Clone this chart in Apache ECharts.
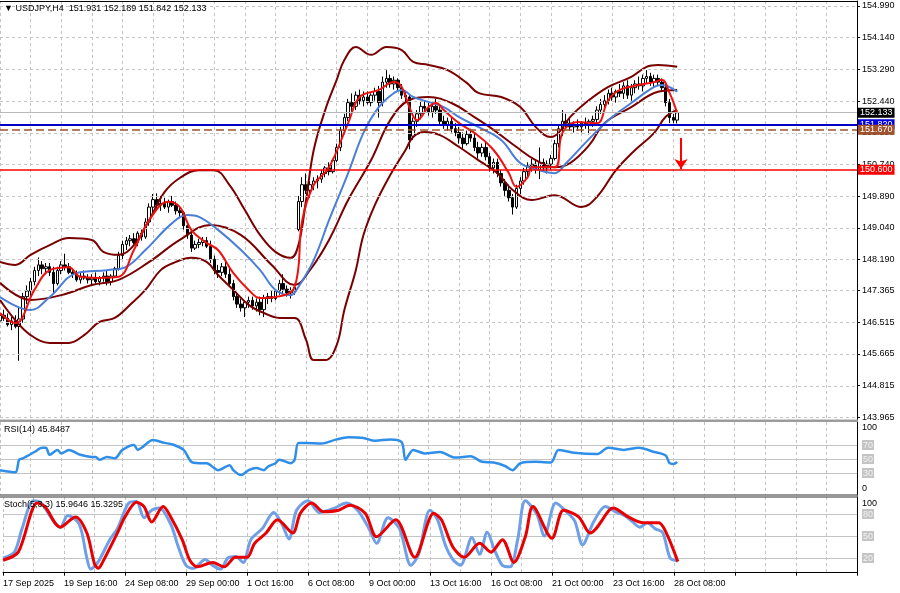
<!DOCTYPE html>
<html><head><meta charset="utf-8">
<script src="https://cdn.jsdelivr.net/npm/echarts@6/dist/echarts.min.js"></script>
<style>html,body{margin:0;padding:0;background:#fff}#c{width:900px;height:593px}</style>
</head><body><div id="c"></div>
<script>
const symbolTitle = 'USDJPY,H4';
const rsiTitle = 'RSI(14) 45.8487';
const stochTitle = 'Stoch(5,3,3) 15.9646 15.3295';

const open = [146.55,146.70,146.62,146.45,146.55,146.40,146.60,147.20,147.35,147.60,147.90,148.05,147.95,148.00,147.85,147.55,147.90,148.05,148.00,147.85,147.80,147.65,147.75,147.70,147.65,147.70,147.60,147.70,147.75,147.60,
147.75,147.95,148.30,148.60,148.70,148.75,148.65,148.90,148.80,149.20,149.60,149.80,149.65,149.70,149.60,149.75,149.65,149.50,149.45,149.10,148.85,148.50,148.60,148.65,148.70,148.55,148.20,147.90,147.85,148.00,
147.80,147.55,147.20,147.00,146.90,147.05,147.10,146.95,147.05,146.85,147.15,147.20,147.15,147.35,147.55,147.40,147.30,147.35,149.00,149.75,150.20,150.05,150.20,150.30,150.35,150.50,150.65,150.55,150.85,151.20,
151.65,152.00,152.40,152.30,152.60,152.45,152.55,152.40,152.60,152.70,152.40,152.95,153.05,152.90,153.00,152.80,152.60,152.55,151.50,151.90,152.10,152.30,152.25,152.15,152.30,152.20,151.90,151.80,151.90,151.70,
151.60,151.45,151.30,151.55,151.45,151.20,151.05,151.20,150.95,150.65,150.80,150.50,150.25,150.05,149.85,149.60,150.10,150.30,150.55,150.70,150.75,150.60,150.80,150.65,150.75,150.90,151.30,151.70,151.90,151.85,
151.75,151.80,151.75,151.85,151.80,151.90,151.95,152.20,152.35,152.45,152.65,152.55,152.70,152.65,152.85,152.60,152.80,152.90,152.85,153.05,153.10,152.95,153.05,152.95,152.80,152.40,152.00,151.931];
const high = [146.80,146.85,146.75,146.65,146.70,146.90,147.30,147.50,147.70,148.00,148.25,148.15,148.10,148.10,148.00,148.00,148.15,148.35,148.10,147.95,147.90,147.85,147.90,147.80,147.80,147.85,147.75,147.85,147.90,147.80,
148.00,148.40,148.70,148.80,148.85,148.90,148.95,149.00,149.30,149.70,149.95,149.97,149.90,149.85,149.80,149.90,149.75,149.60,149.50,149.20,148.95,148.70,148.75,148.80,148.80,148.70,148.30,148.05,148.10,148.15,
147.95,147.65,147.30,147.15,147.10,147.20,147.20,147.15,147.20,147.25,147.30,147.35,147.40,147.65,147.80,147.50,147.45,147.55,149.90,150.40,150.50,150.30,150.40,150.45,150.60,150.70,150.80,150.90,151.30,151.75,
152.10,152.50,152.65,152.70,152.75,152.70,152.70,152.65,152.80,152.85,153.10,153.27,153.15,153.10,153.05,152.90,152.70,152.60,152.00,152.20,152.45,152.45,152.40,152.35,152.50,152.35,152.05,152.00,152.00,151.85,
151.75,151.60,151.65,151.70,151.60,151.35,151.30,151.35,151.05,150.90,150.90,150.60,150.35,150.20,149.95,150.20,150.40,150.65,150.80,150.90,150.85,151.20,150.90,150.85,151.00,151.40,151.80,152.20,152.10,152.00,
151.90,151.95,151.90,152.00,151.95,152.05,152.30,152.50,152.60,152.75,152.80,152.75,152.90,152.95,153.00,152.90,153.00,153.10,153.15,153.27,153.20,153.15,153.15,153.05,152.90,152.50,152.10,152.189];
const low = [146.45,146.55,146.40,146.30,146.35,145.48,146.50,147.00,147.20,147.50,147.75,147.80,147.80,147.75,147.30,147.50,147.80,147.90,147.80,147.70,147.60,147.55,147.65,147.55,147.50,147.55,147.50,147.60,147.50,147.50,
147.70,147.90,148.20,148.45,148.55,148.60,148.55,148.70,148.75,149.10,149.45,149.55,149.50,149.55,149.45,149.60,149.40,149.30,149.00,148.75,148.40,148.45,148.50,148.55,148.50,148.10,147.80,147.70,147.75,147.70,
147.50,147.10,146.90,146.80,146.65,146.90,146.85,146.80,146.70,146.65,147.00,147.05,147.10,147.25,147.30,147.20,147.15,147.25,148.95,149.60,149.95,149.85,150.05,150.10,150.25,150.40,150.45,150.50,150.80,151.10,
151.55,151.90,152.15,152.20,152.35,152.30,152.35,152.30,152.45,152.00,152.30,152.80,152.80,152.75,152.70,152.50,152.40,151.15,151.40,151.75,151.95,152.15,152.05,152.00,152.10,151.80,151.70,151.65,151.60,151.50,
151.30,151.15,151.25,151.35,151.10,150.90,150.95,150.85,150.55,150.50,150.40,150.15,149.90,149.75,149.40,149.55,149.95,150.20,150.40,150.55,150.50,150.35,150.55,150.50,150.60,150.85,151.20,151.50,151.70,151.65,
151.60,151.65,151.60,151.70,151.55,151.75,151.85,152.10,152.20,152.35,152.45,152.40,152.55,152.50,152.50,152.45,152.65,152.75,152.70,152.90,152.85,152.80,152.85,152.70,152.30,151.85,151.85,151.842];
const close = [146.70,146.62,146.45,146.55,146.40,146.60,147.20,147.35,147.60,147.90,148.05,147.95,148.00,147.85,147.55,147.90,148.05,148.00,147.85,147.80,147.65,147.75,147.70,147.65,147.70,147.60,147.70,147.75,147.60,147.75,
147.95,148.30,148.60,148.70,148.75,148.65,148.90,148.80,149.20,149.60,149.80,149.65,149.70,149.60,149.75,149.65,149.50,149.45,149.10,148.85,148.50,148.60,148.65,148.70,148.55,148.20,147.90,147.85,148.00,147.80,
147.55,147.20,147.00,146.90,147.05,147.10,146.95,147.05,146.85,147.15,147.20,147.15,147.35,147.55,147.40,147.30,147.35,147.45,149.75,150.20,150.05,150.20,150.30,150.35,150.50,150.65,150.55,150.85,151.20,151.65,
152.00,152.40,152.30,152.60,152.45,152.55,152.40,152.60,152.70,152.40,152.95,153.05,152.90,153.00,152.80,152.60,152.55,151.40,151.90,152.10,152.30,152.25,152.15,152.30,152.20,151.90,151.80,151.90,151.70,151.60,
151.45,151.30,151.55,151.45,151.20,151.05,151.20,150.95,150.65,150.80,150.50,150.25,150.05,149.85,149.60,150.10,150.30,150.55,150.70,150.75,150.60,150.80,150.65,150.75,150.90,151.30,151.70,151.90,151.85,151.75,
151.80,151.75,151.85,151.80,151.90,151.95,152.20,152.35,152.45,152.65,152.55,152.70,152.65,152.85,152.60,152.80,152.90,152.85,153.05,153.10,152.95,153.05,152.95,152.80,152.40,152.00,151.93,152.133];

const priceTicks = [154.990,154.140,153.290,152.440,151.590,150.740,149.890,149.040,148.190,147.365,146.515,145.665,144.815,143.965];
const timeTicks = [[0,'17 Sep 2025'],[16,'19 Sep 16:00'],[32,'24 Sep 08:00'],[48,'29 Sep 00:00'],[64,'1 Oct 16:00'],[80,'6 Oct 08:00'],[96,'9 Oct 00:00'],[112,'13 Oct 16:00'],[128,'16 Oct 08:00'],[144,'21 Oct 00:00'],[160,'23 Oct 16:00'],[176,'28 Oct 08:00']];

const bbUpper = [[0,148.13],[4,148.05],[8,148.32],[13,148.58],[18,148.77],[24,148.72],[27,148.40],[31,148.32],[35,148.58],[39,149.25],[43,150.00],[47,150.38],[52,150.59],[56,150.59],[60,150.19],[64,149.52],[68,148.85],[72,148.40],[76,148.24],[78,148.58],[80,149.79],[82,151.13],[85,152.20],[88,153.01],[90,153.54],[93,153.89],[97,153.68],[101,153.89],[105,153.81],[108,153.49],[112,153.41],[117,153.27],[122,152.93],[125,152.66],[131,152.55],[136,152.28],[140,151.75],[144,151.48],[146,151.59],[149,152.01],[153,152.39],[159,152.82],[165,153.09],[169,153.36],[172,153.41],[177,153.36]];
const bbMiddle = [[0,147.57],[8,147.11],[16,147.24],[24,147.51],[31,147.65],[39,148.13],[47,148.72],[55,149.12],[63,148.85],[71,148.05],[77,147.51],[81,147.91],[86,148.72],[91,149.79],[97,150.86],[102,151.93],[107,152.47],[112,152.55],[118,152.39],[124,152.01],[129,151.67],[135,151.21],[140,150.86],[145,150.67],[149,150.78],[154,151.26],[158,151.85],[165,152.28],[172,152.69],[177,152.74]];
const bbLower = [[0,147.11],[4,146.57],[8,146.17],[13,145.96],[18,145.96],[22,146.17],[26,146.52],[30,146.63],[34,146.98],[38,147.38],[42,147.91],[46,148.13],[50,148.24],[54,148.13],[57,147.78],[61,147.38],[65,146.98],[69,146.76],[73,146.63],[77,146.63],[80,146.04],[82,145.50],[85,145.50],[88,145.90],[90,146.84],[93,147.91],[95,148.85],[98,149.66],[102,150.46],[106,151.13],[108,151.48],[111,151.61],[115,151.53],[120,151.21],[125,150.86],[130,150.51],[134,150.06],[139,149.79],[145,149.92],[152,149.60],[156,149.87],[161,150.59],[166,151.13],[171,151.59],[174,152.02],[177,152.20]];
const maBlue = [[0,147.19],[8,146.84],[13,147.19],[20,147.83],[28,147.91],[33,148.00],[38,148.45],[45,149.17],[49,149.39],[52,149.34],[57,148.99],[63,148.45],[68,147.91],[72,147.38],[76,147.24],[78,147.46],[82,148.18],[86,149.25],[91,150.51],[95,151.59],[99,152.28],[103,152.66],[105,152.74],[108,152.55],[112,152.42],[116,152.28],[120,152.01],[125,151.75],[131,151.40],[136,150.78],[141,150.59],[145,150.51],[148,150.78],[153,151.32],[159,151.93],[165,152.39],[171,152.82],[173,152.87],[177,152.69]];
const maRed = [[0,146.76],[4,146.49],[9,147.38],[13,147.91],[18,147.99],[21,147.73],[26,147.70],[31,147.73],[35,148.45],[39,149.25],[44,149.74],[47,149.60],[50,148.99],[54,148.64],[57,148.45],[61,147.83],[65,147.38],[68,147.16],[72,147.19],[77,147.46],[79,149.25],[82,150.19],[86,150.67],[91,151.85],[94,152.55],[99,152.74],[103,152.95],[105,152.82],[107,152.28],[109,151.93],[112,152.28],[114,152.39],[116,152.20],[120,151.85],[124,151.59],[129,151.13],[133,150.51],[135,150.14],[138,150.41],[139,150.67],[145,150.67],[147,151.59],[151,151.88],[156,151.85],[159,152.47],[162,152.74],[167,152.87],[171,152.95],[173,153.01],[175,152.66],[177,152.12]];

const rsi = [[0,34],[4,31],[5,49],[6,51],[9,60],[11,66],[12,66],[13,56],[15,63],[16,58],[18,63],[21,56],[24,53],[25,53],[26,49],[28,53],[30,51],[32,63],[35,70],[36,63],[37,66],[40,77],[43,73],[45,71],[48,63],[50,46],[52,44],[54,44],[56,37],[57,34],[60,41],[61,34],[63,27],[65,34],[67,37],[69,34],[70,39],[72,44],[73,49],[76,44],[77,49],[78,73],[80,73],[84,72],[88,78],[91,81],[95,80],[98,76],[102,78],[105,74],[106,49],[108,63],[111,58],[115,60],[119,52],[123,54],[126,46],[129,45],[132,40],[134,34],[136,44],[140,46],[144,45],[146,63],[150,59],[156,57],[159,66],[163,63],[167,66],[171,60],[174,55],[175,44],[176,43],[177,45.85]];
const stochK = [[0,20],[3,28],[5,60],[8,98],[10,95],[13,72],[15,62],[17,78],[20,66],[22,20],[23,5],[25,15],[28,45],[30,60],[33,95],[35,97],[37,75],[39,85],[41,88],[44,66],[46,35],[48,10],[50,6],[53,18],[55,10],[57,5],[59,20],[61,22],[63,14],[65,45],[68,60],[71,82],[73,68],[75,46],[77,85],[80,98],[83,82],[87,88],[90,95],[93,85],[96,60],[98,40],[101,75],[104,60],[107,10],[109,25],[112,85],[114,72],[116,38],[118,18],[120,10],[123,48],[125,25],[127,55],[129,30],[131,10],[133,8],[135,45],[137,98],[140,80],[142,50],[145,95],[148,82],[150,70],[152,38],[155,70],[158,90],[161,82],[163,78],[165,70],[167,62],[169,68],[171,60],[173,55],[175,20],[177,15.96]];
const stochD = [[0,17],[4,28],[9,95],[11,90],[15,62],[19,76],[22,54],[24,12],[25,6],[26,13],[30,54],[32,76],[35,96],[37,90],[39,69],[42,90],[44,76],[47,45],[49,17],[51,8],[55,14],[58,8],[61,21],[64,21],[66,40],[69,54],[72,72],[76,54],[78,81],[81,95],[84,83],[88,85],[91,92],[95,81],[98,49],[103,72],[108,21],[113,81],[115,72],[118,35],[121,21],[125,40],[128,28],[131,45],[134,14],[137,49],[139,90],[144,47],[147,85],[151,76],[154,54],[159,85],[160,88],[164,76],[168,68],[172,68],[174,54],[177,15.33]];

const bidLevel = 152.133;
const blueLevel = 151.820;
const brownLevel = 151.670;
const redLevel = 150.600;
const arrowFrom = [178, 151.45];
const arrowTo = [178, 150.62];
const rsiLevels = [70, 50, 30];
const stochLevels = [80, 50, 20];

const SLOTS = 225;
const slots = Array.from({length: SLOTS}, (_, i) => String(i));
const tickMap = {}; timeTicks.forEach(t => tickMap[t[0]] = t[1]);
const FONT = "'Liberation Sans', Arial, sans-serif";
const fmt3 = v => v.toFixed(3);

const chart = echarts.init(document.getElementById('c'), null, {renderer: 'canvas'});

function xAx(gi, mode) {
  const bottom = mode === 'bottom';
  return {
    type: 'category', gridIndex: gi, data: slots, boundaryGap: false,
    position: mode === 'top' ? 'top' : 'bottom',
    axisLine: {show: mode !== 'none', lineStyle: {color: '#000', width: 1}},
    axisTick: {show: bottom, interval: 15, length: 3, lineStyle: {color: '#000'}},
    axisLabel: bottom ? {show: true, interval: 15, align: 'left', margin: 6, color: '#000', fontSize: 9, fontFamily: FONT,
      formatter: (v, idx) => tickMap[idx] || ''} : {show: false},
    splitLine: {show: true, interval: 7, lineStyle: {color: '#c4c4c4', type: [3, 3], width: 1}}
  };
}

const candleData = open.map((o, i) => [o, close[i], low[i], high[i]]);

function lvlLine(val, color, width, type, labelBg, labelColor) {
  return {
    yAxis: val, lineStyle: {color, width, type},
    label: {show: !!labelBg, position: 'end', distance: 1, formatter: fmt3(val), backgroundColor: labelBg,
      color: labelColor, fontSize: 9, fontFamily: FONT, padding: [1, 2, 0, 2]}
  };
}

const option = {
  animation: false,
  backgroundColor: '#fff',
  grid: [
    {left: 0, right: 43, top: 1, height: 419, show: false},
    {left: 0, right: 43, top: 422, height: 73, show: false},
    {left: 0, right: 43, top: 497, height: 76, show: false}
  ],
  xAxis: [xAx(0, 'top'), xAx(1, 'none'), xAx(2, 'bottom')],
  yAxis: [
    {type: 'value', gridIndex: 0, position: 'right', min: 143.893, max: 155.124,
      axisLine: {show: true, lineStyle: {color: '#000'}},
      axisTick: {show: true, customValues: priceTicks, length: 3, lineStyle: {color: '#000'}},
      axisLabel: {customValues: priceTicks, formatter: fmt3, color: '#000', fontSize: 9, fontFamily: FONT, margin: 5},
      splitLine: {show: false}},
    {type: 'value', gridIndex: 1, position: 'right', min: -1.43, max: 102.86,
      axisLine: {show: true, lineStyle: {color: '#000'}},
      axisTick: {show: false},
      axisLabel: {customValues: [0, 30, 50, 70, 100], color: '#000', fontSize: 9, fontFamily: FONT, margin: 5,
        formatter: v => v === 100 ? '{t|100}' : v === 0 ? '{b|0}' : '{g|' + v + '}',
        rich: {t: {padding: [8, 0, 0, 0], fontSize: 9}, b: {padding: [0, 0, 10, 0], fontSize: 9},
          g: {backgroundColor: '#c4c4c4', color: '#f2f2f2', padding: [1, 1, 0, 1], fontSize: 9}}},
      splitLine: {show: false}},
    {type: 'value', gridIndex: 2, position: 'right', min: -0.41, max: 103.1,
      axisLine: {show: true, lineStyle: {color: '#000'}},
      axisTick: {show: false},
      axisLabel: {customValues: [0, 20, 50, 80, 100], color: '#000', fontSize: 9, fontFamily: FONT, margin: 5,
        formatter: v => v === 100 ? '{t|100}' : v === 0 ? '{b|0}' : '{g|' + v + '}',
        rich: {t: {padding: [9, 0, 0, 0], fontSize: 9}, b: {padding: [0, 0, 13, 0], fontSize: 9},
          g: {backgroundColor: '#c4c4c4', color: '#f2f2f2', padding: [1, 1, 0, 1], fontSize: 9}}},
      splitLine: {show: false}}
  ],
  graphic: [
    {type: 'rect', left: 0, top: 419.5, z: 90, shape: {width: 858, height: 2.5}, style: {fill: '#9c9c9c'}},
    {type: 'rect', left: 0, top: 494.5, z: 90, shape: {width: 858, height: 1}, style: {fill: '#333'}},
    {type: 'rect', left: 0, top: 496.5, z: 90, shape: {width: 858, height: 1}, style: {fill: '#333'}},
    {type: 'text', left: 4, top: 4, z: 100, style: {text: '▼ ' + symbolTitle + '  ' + [open, high, low, close].map(a => fmt3(a[a.length - 1])).join(' '),
      fill: '#000', font: "9px 'Liberation Sans', Arial, sans-serif"}},
    {type: 'text', left: 4, top: 425, z: 100, style: {text: rsiTitle, fill: '#000', font: "9px 'Liberation Sans', Arial, sans-serif"}},
    {type: 'text', left: 4, top: 500, z: 100, style: {text: stochTitle, fill: '#000', font: "9px 'Liberation Sans', Arial, sans-serif"}}
  ],
  series: [
    {type: 'line', xAxisIndex: 0, yAxisIndex: 0, data: close.map((c, i) => [i, c]), showSymbol: false, silent: true,
      lineStyle: {opacity: 0}, z: 1,
      markLine: {silent: true, symbol: 'none', animation: false,
        data: priceTicks.map(v => ({yAxis: v, lineStyle: {color: '#c4c4c4', type: [3, 3], width: 1}, label: {show: false}}))}},
    {type: 'candlestick', xAxisIndex: 0, yAxisIndex: 0, data: candleData, barWidth: 3, z: 3,
      itemStyle: {color: '#ffffff', color0: '#000000', borderColor: '#000000', borderColor0: '#000000', borderWidth: 1}},
    {type: 'line', xAxisIndex: 0, yAxisIndex: 0, data: bbUpper, smooth: 0.4, showSymbol: false, z: 4, lineStyle: {color: '#7a0000', width: 2}},
    {type: 'line', xAxisIndex: 0, yAxisIndex: 0, data: bbMiddle, smooth: 0.4, showSymbol: false, z: 4, lineStyle: {color: '#7a0000', width: 2}},
    {type: 'line', xAxisIndex: 0, yAxisIndex: 0, data: bbLower, smooth: 0.4, showSymbol: false, z: 4, lineStyle: {color: '#7a0000', width: 2}},
    {type: 'line', xAxisIndex: 0, yAxisIndex: 0, data: maBlue, smooth: 0.4, showSymbol: false, z: 5, lineStyle: {color: '#4a7fd8', width: 2}},
    {type: 'line', xAxisIndex: 0, yAxisIndex: 0, data: maRed, smooth: 0.4, showSymbol: false, z: 6, lineStyle: {color: '#ee1111', width: 2},
      markLine: {silent: true, symbol: 'none', animation: false, z: 10,
        data: [
          lvlLine(bidLevel, '#b8b8b8', 1, 'solid', '#000000', '#ffffff'),
          lvlLine(blueLevel, '#0000c8', 2, 'solid', '#0000e0', '#ffffff'),
          lvlLine(brownLevel, '#a0522d', 1.5, [8, 4], '#a0522d', '#ffffff'),
          lvlLine(redLevel, '#ff0000', 1.5, 'solid', '#ff0000', '#ffffff')
        ]}},
    {type: 'line', xAxisIndex: 0, yAxisIndex: 0, data: [], z: 11,
      markLine: {silent: true, animation: false, symbol: ['none', 'arrow'], symbolSize: 10,
        lineStyle: {color: '#ff0000', width: 2, type: 'solid'}, label: {show: false},
        data: [[{coord: arrowFrom}, {coord: arrowTo}]]}},
    {type: 'line', xAxisIndex: 1, yAxisIndex: 1, data: rsi, smooth: 0.3, showSymbol: false, z: 5,
      lineStyle: {color: '#2f8fe8', width: 2.5},
      markLine: {silent: true, symbol: 'none', animation: false, label: {show: false},
        data: rsiLevels.map(v => ({yAxis: v, lineStyle: {color: '#c4c4c4', type: 'solid', width: 1}}))}},
    {type: 'line', xAxisIndex: 2, yAxisIndex: 2, data: stochK, smooth: 0.3, showSymbol: false, z: 5,
      lineStyle: {color: '#6f9fe6', width: 3},
      markLine: {silent: true, symbol: 'none', animation: false, label: {show: false},
        data: stochLevels.map(v => ({yAxis: v, lineStyle: {color: '#c4c4c4', type: 'solid', width: 1}}))}},
    {type: 'line', xAxisIndex: 2, yAxisIndex: 2, data: stochD, smooth: 0.3, showSymbol: false, z: 6,
      lineStyle: {color: '#e80000', width: 3}}
  ]
};
chart.setOption(option);
</script></body></html>
